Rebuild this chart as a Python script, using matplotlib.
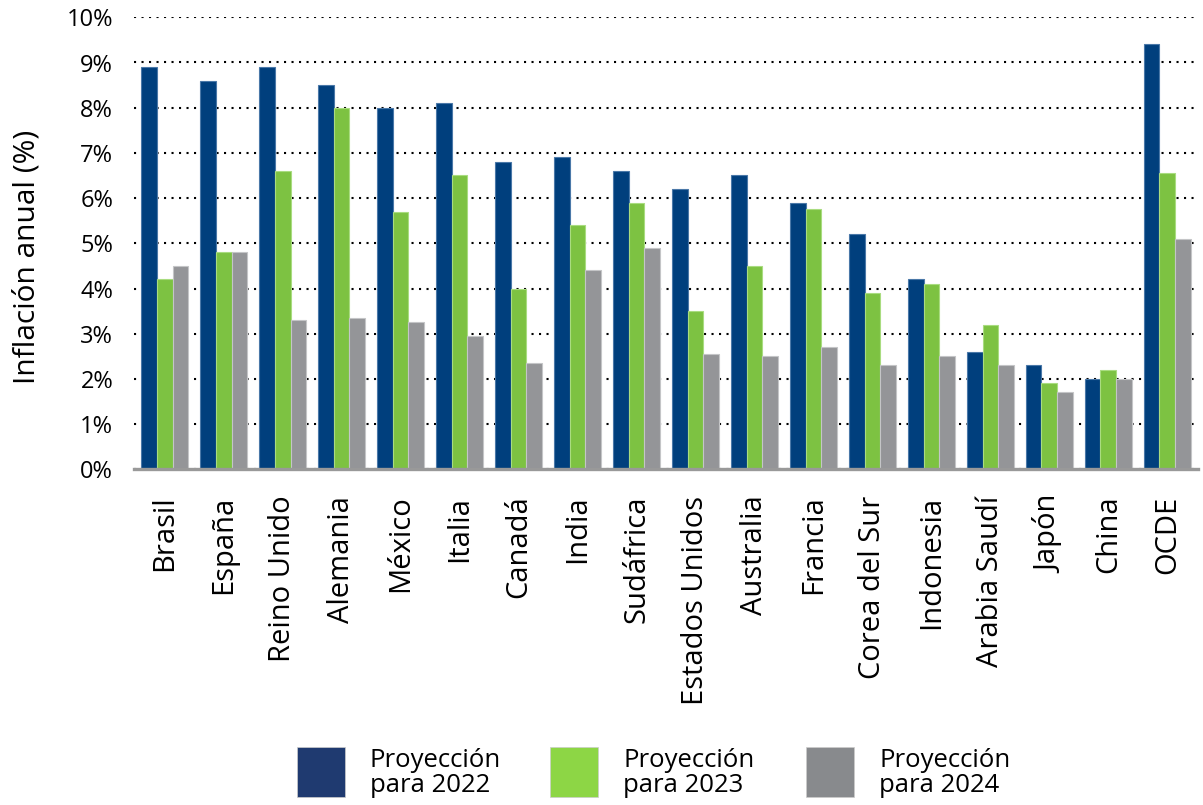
import numpy as np
import matplotlib
matplotlib.use('Agg')
import matplotlib.pyplot as plt
from matplotlib.patches import Rectangle

plt.rcParams['font.family'] = ['Open Sans', 'DejaVu Sans']

paises = ['Brasil', 'España', 'Reino Unido', 'Alemania', 'México', 'Italia',
          'Canadá', 'India', 'Sudáfrica', 'Estados Unidos', 'Australia',
          'Francia', 'Corea del Sur', 'Indonesia', 'Arabia Saudí', 'Japón',
          'China', 'OCDE']
proy_2022 = [8.9, 8.6, 8.9, 8.5, 8.0, 8.1, 6.8, 6.9, 6.6, 6.2, 6.5, 5.9, 5.2, 4.2, 2.6, 2.3, 2.0, 9.4]
proy_2023 = [4.2, 4.8, 6.6, 8.0, 5.7, 6.5, 4.0, 5.4, 5.9, 3.5, 4.5, 5.75, 3.9, 4.1, 3.2, 1.9, 2.2, 6.55]
proy_2024 = [4.5, 4.8, 3.3, 3.35, 3.25, 2.95, 2.35, 4.4, 4.9, 2.55, 2.5, 2.7, 2.3, 2.5, 2.3, 1.7, 2.0, 5.1]
etiquetas = ['Proyección\npara 2022', 'Proyección\npara 2023', 'Proyección\npara 2024']
yticks = np.arange(0, 11)

# colores de barras y de la leyenda (la leyenda usa tonos algo distintos)
col_barras = ['#003f7d', '#7dc242', '#949598']
col_bordes = ['#4a78a8', '#a9dc80', '#c4c5c7']
col_leyenda = ['#1f3a70', '#8dd645', '#888a8d']

fig = plt.figure(figsize=(12.03, 8.05), dpi=100)
ax = fig.add_axes([134 / 1203, 1 - 469.3 / 805, (1198 - 134) / 1203, 452 / 805])

x = np.arange(len(paises))
w = 0.267
for i, serie in enumerate([proy_2022, proy_2023, proy_2024]):
    ax.bar(x + (i - 1) * w, serie, width=w, color=col_barras[i],
           edgecolor=col_bordes[i], linewidth=0.8, zorder=2)

ax.set_xlim(-0.52, 17.52)
ax.set_ylim(0, 10)
ax.set_yticks(yticks)
ax.set_yticklabels([f'{v}%' for v in yticks], fontsize=17)
ax.set_xticks(x)
ax.set_xticklabels(paises, rotation=90, fontsize=21, va='top')
ax.tick_params(axis='y', length=0, pad=15)
ax.tick_params(axis='x', length=0, pad=19)

ax.yaxis.grid(True, color='black', linestyle=(0, (1, 2.6)), linewidth=1.5, zorder=0)
ax.set_axisbelow(True)
for s in ['top', 'right', 'left']:
    ax.spines[s].set_visible(False)
ax.spines['bottom'].set_color('#999999')
ax.spines['bottom'].set_linewidth(2.4)
ax.spines['bottom'].set_zorder(3)

fig.text(27 / 1203, 1 - 257 / 805, 'Inflación anual (%)', rotation=90,
         fontsize=21.5, ha='center', va='center')

# leyenda dibujada a mano debajo del gráfico
for px, col, txt in zip([297, 550, 806], col_leyenda, etiquetas):
    fig.patches.append(Rectangle((px / 1203, 1 - 797 / 805), 48 / 1203, 50 / 805,
                                 transform=fig.transFigure, facecolor=col,
                                 edgecolor='#cccccc', linewidth=0.5))
    fig.text((px + 73) / 1203, 1 - 773 / 805, txt, fontsize=18.5,
             ha='left', va='center', linespacing=1.0)

fig.savefig('out.png', dpi=100)
